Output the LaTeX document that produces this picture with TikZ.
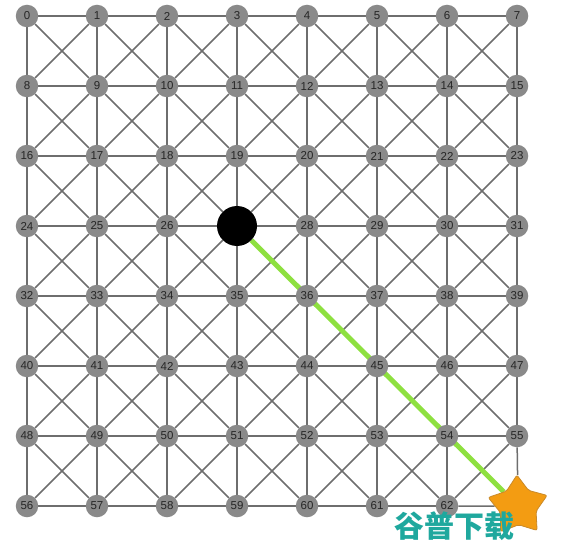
\documentclass[tikz,border=0pt]{standalone}
\usepackage{fontspec}
\setmainfont{Liberation Sans}
\newfontfamily\cjkfont{Noto Sans CJK SC}
\usetikzlibrary{shapes.geometric,backgrounds}

\definecolor{nodegray}{HTML}{8A8A8A}
\definecolor{edgegray}{HTML}{6E6E6E}
\definecolor{pathgreen}{HTML}{8EE040}
\definecolor{starorange}{HTML}{F39C12}
\definecolor{starrim}{HTML}{C98A2A}
\definecolor{markteal}{HTML}{1FA89E}

\tikzset{
  vertex/.style={circle,fill=nodegray,minimum size=22.5pt,inner sep=0pt,
    text=black!85,font=\fontsize{11.5}{11.5}\selectfont},
  agent/.style={circle,fill=black,minimum size=40pt,inner sep=0pt},
  goal/.style={star,star points=5,star point ratio=1.65,fill=starorange,
    draw=starrim,line width=0.8pt,rounded corners=2pt,minimum size=62pt,
    inner sep=0pt,rotate=2},
  link/.style={draw=edgegray,line width=1.5pt},
  route/.style={draw=pathgreen,line width=5pt},
}

\begin{document}
\begin{tikzpicture}[x=1pt,y=-1pt]
\useasboundingbox (0,0) rectangle (572,548);

% grid of states
\foreach \r in {0,...,7}{
  \foreach \c in {0,...,7}{
    \pgfmathtruncatemacro{\i}{8*\r+\c}
    \ifnum\i=27
      \node[agent] (n\i) at (27+70*\c,16+70*\r) {};
    \else\ifnum\i=63
      \node[goal] (n\i) at (518,506) {};
    \else
      \node[vertex] (n\i) at (27+70*\c,16+70*\r) {\i};
    \fi\fi
  }
}

\begin{pgfonlayer}{background}
  % moves: right, down and both diagonals
  \foreach \r in {0,...,7}{
    \foreach \c in {0,...,7}{
      \pgfmathtruncatemacro{\i}{8*\r+\c}
      \pgfmathtruncatemacro{\rt}{\i+1}
      \pgfmathtruncatemacro{\dn}{\i+8}
      \pgfmathtruncatemacro{\dr}{\i+9}
      \pgfmathtruncatemacro{\dl}{\i+7}
      \ifnum\c<7 \draw[link] (n\i) -- (n\rt); \fi
      \ifnum\r<7 \draw[link] (n\i) -- (n\dn); \fi
      \ifnum\r<7 \ifnum\c<7 \draw[link] (n\i) -- (n\dr); \fi\fi
      \ifnum\r<7 \ifnum\c>0 \draw[link] (n\i) -- (n\dl); \fi\fi
    }
  }
  % shortest route to the goal
  \draw[route] (n27) -- (n63);
\end{pgfonlayer}

\node[text=markteal,font={\cjkfont\bfseries\fontsize{30}{30}\selectfont},
  inner sep=0pt] (wm) at (454,526) {谷普下载};

\end{tikzpicture}
\end{document}
